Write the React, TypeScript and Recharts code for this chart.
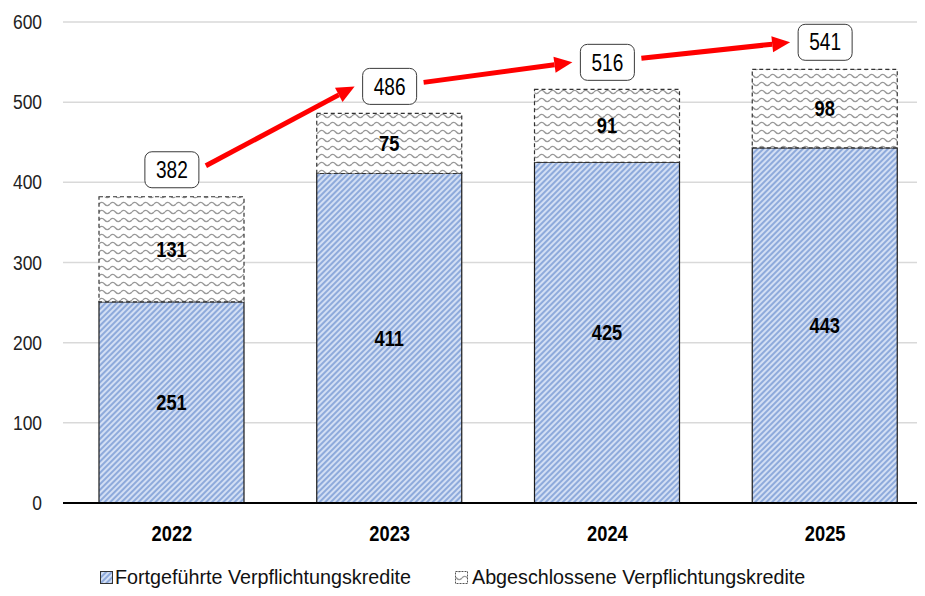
import React from 'react';
import {
  ComposedChart,
  Bar,
  Line,
  XAxis,
  YAxis,
  CartesianGrid,
  LabelList,
} from 'recharts';

const years = ['2022', '2023', '2024', '2025'];
const continued = [251, 411, 425, 443];
const closed = [131, 75, 91, 98];
const totals = [382, 486, 516, 541];
const yTicks = [0, 100, 200, 300, 400, 500, 600];

const seriesNames = {
  continued: 'Fortgeführte Verpflichtungskredite',
  closed: 'Abgeschlossene Verpflichtungskredite',
};

const data = years.map((year, i) => ({
  year,
  continued: continued[i],
  closed: closed[i],
  total: totals[i],
}));

// no narrow font installed, so squeeze Liberation Sans horizontally
const FONT = '"Liberation Sans", Arial, sans-serif';
const SQUEEZE = 0.83;
const BOX_W = 54;
const BOX_H = 36;
const BOX_LIFT = 27;

const NarrowText = ({ x, y, anchor = 'middle', size = 21, bold = false, fill = '#000', squeeze = SQUEEZE, children }: any) => (
  <text
    transform={`translate(${x} ${y}) scale(${squeeze} 1)`}
    textAnchor={anchor}
    dominantBaseline="central"
    fontSize={size}
    fontWeight={bold ? 700 : 400}
    fill={fill}
    fontFamily={FONT}
  >
    {children}
  </text>
);

const Patterns = () => (
  <defs>
    <pattern id="stripes" patternUnits="userSpaceOnUse" width="4" height="4" patternTransform="rotate(45)">
      <rect width="4" height="4" fill="#d3dff4" />
      <rect width="2" height="4" fill="#8eaadb" />
    </pattern>
    <pattern id="waves" patternUnits="userSpaceOnUse" width="11" height="8">
      <rect width="11" height="8" fill="#ffffff" />
      <path d="M0 4 Q2.75 0.8 5.5 4 T11 4" fill="none" stroke="#999999" strokeWidth="1.4" />
    </pattern>
  </defs>
);

const YTick = (props: any) => (
  <NarrowText x={props.x} y={props.y} anchor="end" size={21} fill="#222">
    {props.payload.value}
  </NarrowText>
);

const XTick = (props: any) => (
  <NarrowText x={props.x} y={props.y + 22} size={22} bold>
    {props.payload.value}
  </NarrowText>
);

const SegmentLabel = (props: any) => {
  const { x, y, width, height, value } = props;
  return (
    <NarrowText x={x + width / 2} y={y + height / 2} size={22} bold>
      {value}
    </NarrowText>
  );
};

// total box plus the red arrow pointing to the next year's box
const TotalDot = (props: any) => {
  const { cx, cy, index, points, payload } = props;
  if (cx == null || cy == null) return null;
  const by = cy - BOX_LIFT;
  const next = points && points[index + 1];
  let arrow = null;
  if (next) {
    const x1 = cx + BOX_W / 2 + 7;
    const y1 = by - 4;
    const x2 = next.x - BOX_W / 2 - 8;
    const y2 = next.y - BOX_LIFT;
    const ang = Math.atan2(y2 - y1, x2 - x1);
    const headLen = 18;
    const headW = 8;
    const hx = x2 - headLen * Math.cos(ang);
    const hy = y2 - headLen * Math.sin(ang);
    const px = -Math.sin(ang) * headW;
    const py = Math.cos(ang) * headW;
    arrow = (
      <g>
        <line x1={x1} y1={y1} x2={hx} y2={hy} stroke="#ff0000" strokeWidth={5} />
        <polygon points={`${x2},${y2} ${hx + px},${hy + py} ${hx - px},${hy - py}`} fill="#ff0000" />
      </g>
    );
  }
  return (
    <g key={`total-${index}`}>
      {arrow}
      <rect x={cx - BOX_W / 2} y={by - BOX_H / 2} width={BOX_W} height={BOX_H} rx={7} fill="#ffffff" stroke="#3a3a3a" strokeWidth={1} />
      <NarrowText x={cx} y={by} size={23}>
        {payload.total}
      </NarrowText>
    </g>
  );
};

const ChartLegend = () => (
  <svg width={925} height={34} style={{ position: 'absolute', left: 0, top: 558, display: 'block' }}>
    <rect x={100.5} y={13.5} width={12} height={12} fill="url(#stripes)" stroke="#333" />
    <NarrowText x={115} y={19} anchor="start" size={21} fill="#111" squeeze={0.94}>
      {seriesNames.continued}
    </NarrowText>
    <rect x={455.5} y={13.5} width={12} height={12} fill="url(#waves)" stroke="#555" strokeDasharray="2 1" />
    <NarrowText x={472} y={19} anchor="start" size={21} fill="#111" squeeze={0.94}>
      {seriesNames.closed}
    </NarrowText>
  </svg>
);

export default function App() {
  return (
    <div style={{ margin: -8, width: 925, height: 596, overflow: 'hidden', position: 'relative', background: '#fff' }}>
      <ComposedChart width={940} height={596} data={data} margin={{ top: 22, right: 6, bottom: 0, left: 0 }}>
        <Patterns />
        <CartesianGrid vertical={false} stroke="#d9d9d9" strokeWidth={1.5} />
        <XAxis
          dataKey="year"
          height={93}
          axisLine={{ stroke: '#000', strokeWidth: 2 }}
          tickLine={false}
          tick={<XTick />}
        />
        <YAxis
          width={63}
          domain={[0, 600]}
          ticks={yTicks}
          axisLine={false}
          tickLine={false}
          tickMargin={15}
          tick={<YTick />}
        />
        <Bar dataKey="continued" stackId="a" barSize={145} fill="url(#stripes)" stroke="#1a1a1a" strokeWidth={1.2} isAnimationActive={false}>
          <LabelList dataKey="continued" content={<SegmentLabel />} />
        </Bar>
        <Bar dataKey="closed" stackId="a" barSize={145} fill="url(#waves)" stroke="#333" strokeWidth={1.2} strokeDasharray="4 3" isAnimationActive={false}>
          <LabelList dataKey="closed" content={<SegmentLabel />} />
        </Bar>
        <Line dataKey="total" stroke="none" dot={<TotalDot />} activeDot={false} isAnimationActive={false} legendType="none" />
      </ComposedChart>
      <ChartLegend />
    </div>
  );
}
